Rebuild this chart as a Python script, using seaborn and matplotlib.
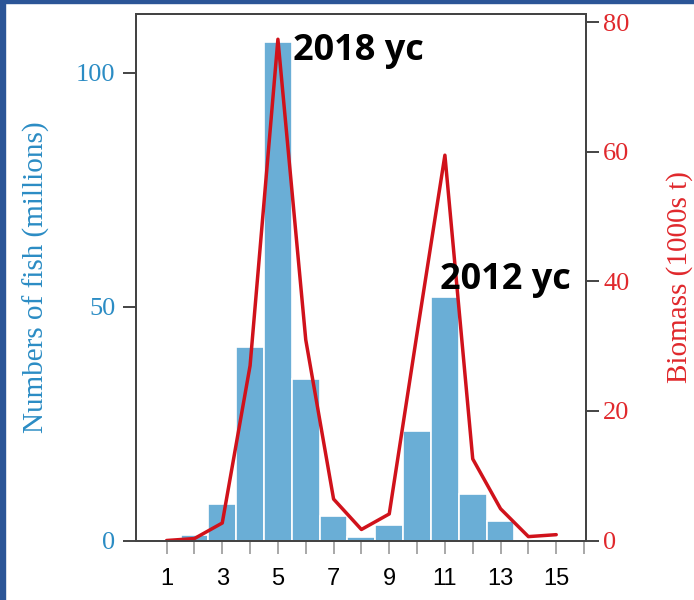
import matplotlib
matplotlib.use("Agg")
import matplotlib.pyplot as plt
import seaborn as sns
import pandas as pd
from matplotlib.patches import Rectangle

# Age composition: numbers at age (millions) and biomass at age (1000s t)
ages = list(range(1, 16))
numbers = [0.0, 1.1, 7.8, 41.3, 106.6, 34.5, 5.2, 0.8, 3.3, 23.3, 52.0, 9.9, 4.1, 0.0, 0.2]
biomass = [0.0, 0.3, 2.7, 27.0, 77.4, 31.0, 6.4, 1.7, 4.1, 32.0, 59.5, 12.6, 4.9, 0.6, 0.9]
x_ticks = list(range(1, 17))
x_ticklabels = [str(t) if t % 2 == 1 else "" for t in x_ticks]
left_ticks = [0, 50, 100]
right_ticks = [0, 20, 40, 60, 80]

df = pd.DataFrame({"age": ages, "numbers": numbers, "biomass": biomass})

sns.set_theme(style="white")
plt.rcParams["font.family"] = ["Liberation Serif", "DejaVu Serif"]

BAR = "#6aaed6"
RED = "#d0121b"
BLUE_TXT = "#2b8cc4"
RED_TXT = "#e0282c"
SPINE = "#444444"

W, H = 694, 600
fig = plt.figure(figsize=(W / 100, H / 100), dpi=100)
fig.patch.set_facecolor("white")
ax = fig.add_axes([135.7 / W, 1 - 540.5 / H, (586 - 135.7) / W, (540.5 - 14) / H])

sns.barplot(data=df, x="age", y="numbers", native_scale=True, width=1.0,
            color=BAR, saturation=1, edgecolor="white", linewidth=1.2, ax=ax)
ax.set_xlim(-0.11, 16.07)
ax.set_ylim(0, 112.5)
ax.set_xticks(x_ticks)
ax.set_xticklabels(x_ticklabels, family="Liberation Sans", fontsize=17, color="black")
ax.set_yticks(left_ticks)
ax.set_yticklabels([str(t) for t in left_ticks], fontsize=19, color=BLUE_TXT)
ax.set_xlabel("")
ax.set_ylabel("Numbers of fish (millions)", fontsize=21, color=BLUE_TXT, labelpad=19)
ax.tick_params(axis="x", bottom=True, direction="out", length=9.5, width=1.2,
               color="#999999", pad=10)
ax.tick_params(axis="y", left=True, direction="out", length=9.5, width=1.4,
               color=SPINE, pad=5)

ax2 = ax.twinx()
sns.lineplot(data=df, x="age", y="biomass", color=RED, linewidth=2.5, ax=ax2)
ax2.set_ylim(0, 81.3)
ax2.set_yticks(right_ticks)
ax2.set_yticklabels([str(t) for t in right_ticks], fontsize=19, color=RED_TXT)
ax2.set_ylabel("Biomass (1000s t)", fontsize=21, color=RED_TXT, labelpad=26)
ax2.tick_params(axis="y", right=True, direction="out", length=9.5, width=1.4,
                color=SPINE, pad=3)

for a in (ax, ax2):
    for side in ("left", "right", "top", "bottom"):
        a.spines[side].set_visible(True)
        a.spines[side].set_color(SPINE)
        a.spines[side].set_linewidth(1.4)

# Year-class annotations
fig.text(293 / W, 1 - 60 / H, "2018 yc", family="Open Sans", fontweight="bold",
         fontsize=26, color="black", va="baseline", ha="left", zorder=10)
fig.text(440 / W, 1 - 289 / H, "2012 yc", family="Open Sans", fontweight="bold",
         fontsize=26, color="black", va="baseline", ha="left", zorder=10)

# Slide frame edges
fig.patches.append(Rectangle((0, 0), 5 / W, 1, transform=fig.transFigure,
                             color="#2b5597", zorder=20))
fig.patches.append(Rectangle((0, 1 - 3 / H), 1, 3 / H, transform=fig.transFigure,
                             color="#2b5597", zorder=20))

fig.savefig("out.png", dpi=100)
